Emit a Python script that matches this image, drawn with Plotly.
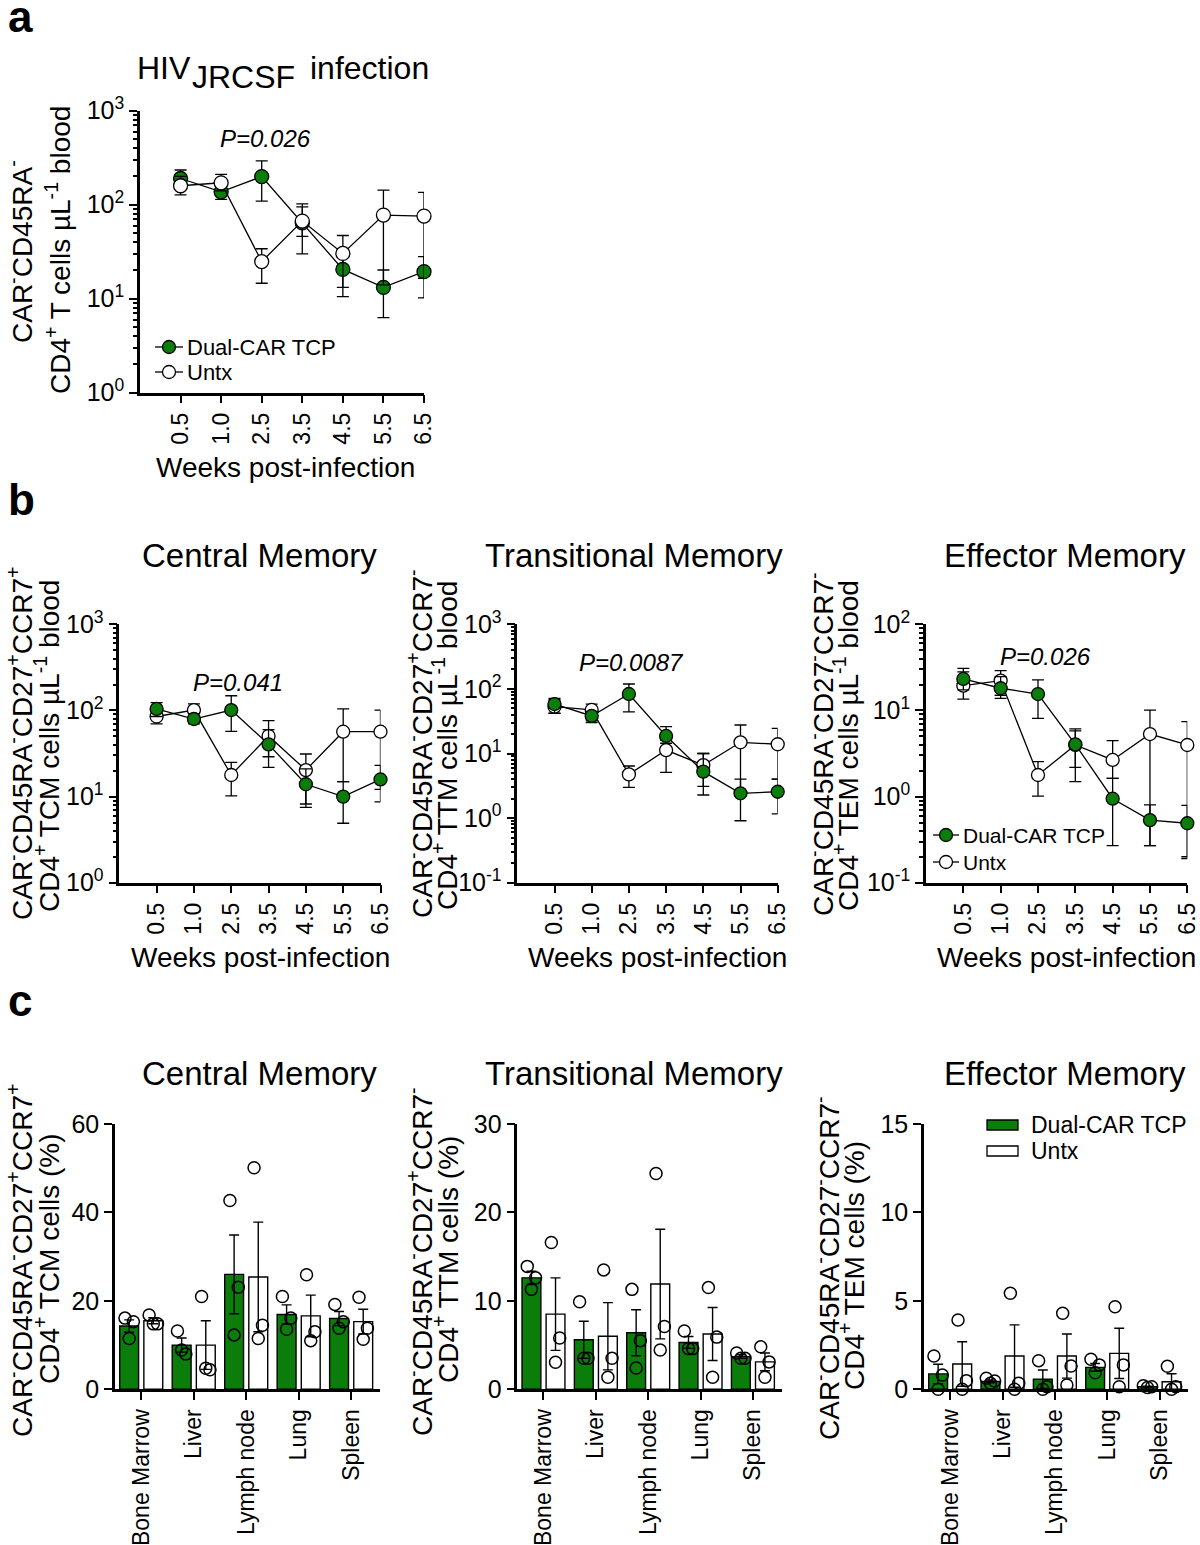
import numpy as np
import plotly.graph_objects as go

W, H = 1200, 1545
FONT = "Liberation Sans, Arial, Helvetica, sans-serif"
GREEN = "#0a7d0a"

# ---------------- data ----------------
weeks = ["0.5", "1.0", "2.5", "3.5", "4.5", "5.5", "6.5"]

# panel a: CAR- CD45RA- CD4+ T cells / uL blood
a_dual = [190, 137, 199, 64, 20.5, 13.2, 19.4]
a_dual_hi = [234, 165, 292, 95, 30, 20.2, 28]
a_dual_lo = [150, 114, 109, 30, 10.5, 6.3, 10.2]
a_untx = [159, 171, 24.8, 67, 30.3, 77.6, 75.7]
a_untx_hi = [200, 210, 34, 102, 47, 143, 135]
a_untx_lo = [127, 140, 14.6, 46, 13.2, 14, 16.5]

# panel b: central / transitional / effector memory
cm_dual = [104, 79.5, 101, 40.4, 13.9, 10.0, 15.8]
cm_dual_hi = [123, 92, 148, 76, 21, 14.9, 23]
cm_dual_lo = [85, 70, 57, 21.8, 7.5, 4.9, 8.7]
cm_untx = [85, 101, 17.8, 50.5, 20.3, 56.6, 56.6]
cm_untx_hi = [100, 119, 25, 60, 31.2, 104, 101]
cm_untx_lo = [70, 85, 10.2, 29, 8.2, 14.9, 12.1]

tm_dual = [58.3, 38.1, 83.4, 18.7, 5.24, 2.42, 2.56]
tm_dual_hi = [71.4, 45, 119, 26, 10, 4.0, 4.0]
tm_dual_lo = [41.7, 30, 44, 14.4, 2.28, 0.91, 1.16]
tm_untx = [53, 47.2, 4.75, 11.3, 6.6, 14.9, 13.9]
tm_untx_hi = [68, 58, 6.4, 16, 10, 27.6, 24.5]
tm_untx_lo = [42, 32, 3.0, 5.1, 3.1, 2.4, 4.0]

em_dual = [23.2, 18.1, 15.5, 4.04, 0.944, 0.533, 0.49]
em_dual_hi = [30.8, 24.7, 22.6, 6.1, 1.63, 0.80, 0.79]
em_dual_lo = [17.3, 13.8, 8.1, 2.18, 0.27, 0.27, 0.19]
em_untx = [19.4, 22.2, 1.78, 3.97, 2.66, 5.32, 3.97]
em_untx_hi = [28, 29, 2.54, 5.8, 4.46, 10.1, 7.4]
em_untx_lo = [13.5, 15, 1.01, 1.49, 1.63, 0.27, 0.2]

# panel c: tissue percentages
tissues = ["Bone Marrow", "Liver", "Lymph node", "Lung", "Spleen"]

c_cm_dual_mean = [14.3, 10.0, 26.0, 16.9, 16.0]
c_cm_dual_sem = [1.4, 1.6, 8.9, 2.2, 1.6]
c_cm_dual_pts = [[16.1, 15.3, 11.5], [13.2, 8.0, 8.9], [42.7, 23.1, 12.3], [21.0, 16.1, 13.6], [19.2, 15.3, 13.8]]
c_cm_untx_mean = [15.5, 10.0, 25.4, 16.6, 15.3]
c_cm_untx_sem = [0.67, 5.5, 12.4, 4.7, 2.8]
c_cm_untx_pts = [[16.8, 14.8, 14.8], [21.0, 4.4, 4.75], [50.1, 14.5, 11.5], [25.9, 13.0, 11.0], [20.8, 13.8, 11.3]]

c_tm_dual_mean = [12.6, 5.6, 6.4, 5.3, 3.7]
c_tm_dual_sem = [0.75, 2.1, 2.6, 0.67, 0.2]
c_tm_dual_pts = [[13.9, 12.6, 11.3], [9.9, 3.5, 3.5], [11.3, 5.5, 2.4], [6.6, 4.6, 4.6], [4.1, 3.5, 3.5]]
c_tm_untx_mean = [8.5, 6.0, 11.9, 6.25, 3.1]
c_tm_untx_sem = [4.1, 3.8, 6.2, 3.0, 1.0]
c_tm_untx_pts = [[16.6, 5.8, 3.05], [13.5, 3.5, 1.36], [24.4, 7.1, 4.45], [11.5, 5.9, 1.36], [4.8, 3.1, 1.36]]

c_em_dual_mean = [0.87, 0.45, 0.57, 1.24, 0.15]
c_em_dual_sem = [0.55, 0.08, 0.52, 0.22, 0.03]
c_em_dual_pts = [[1.88, 0.81, 0.0], [0.62, 0.47, 0.34], [1.62, 0.15, 0.0], [1.7, 1.38, 0.94], [0.2, 0.15, 0.1]]
c_em_untx_mean = [1.43, 1.88, 1.88, 2.03, 0.43]
c_em_untx_sem = [1.26, 1.76, 1.25, 1.42, 0.45]
c_em_untx_pts = [[3.92, 0.49, 0.0], [5.43, 0.34, 0.0], [4.3, 1.32, 0.24], [4.67, 1.38, 0.15], [1.3, 0.15, 0.0]]

series_names = ["Dual-CAR TCP", "Untx"]
p_values = ["P=0.026", "P=0.041", "P=0.0087", "P=0.026"]

# ---------------- helpers ----------------
def fx(p):
    return p / W


def fy(p):
    return 1 - p / H


fig = go.Figure()
layout = dict(
    template="none",
    width=W, height=H, autosize=False,
    margin=dict(l=0, r=0, t=0, b=0, pad=0, autoexpand=False),
    paper_bgcolor="white", plot_bgcolor="white",
    showlegend=False,
    font=dict(family=FONT, color="black"),
)

AXLINE = dict(showline=True, linewidth=2.5, linecolor="black", showgrid=False,
              zeroline=False, ticks="outside", ticklen=8, tickwidth=2, tickcolor="black",
              automargin=False)


def log_yaxis(ydom, lo, hi, anchor):
    exps = list(range(lo, hi + 1))
    minor_vals = [m * 10.0 ** e for e in range(lo, hi) for m in range(2, 10)]
    return dict(
        type="log", domain=[fy(ydom[1]), fy(ydom[0])], range=[lo, hi], anchor=anchor,
        tickmode="array", tickvals=[10.0 ** e for e in exps],
        ticktext=[f"10<sup>{e}</sup>" for e in exps],
        tickfont=dict(size=25, family=FONT, color="black"),
        minor=dict(tickmode="array", tickvals=minor_vals, ticks="outside",
                   ticklen=4, tickwidth=1.5, tickcolor="black", showgrid=False),
        **AXLINE,
    )


def week_xaxis(xdom, anchor):
    return dict(
        type="category", domain=[fx(xdom[0]), fx(xdom[1])], range=[-1, len(weeks) - 1],
        anchor=anchor, categoryorder="array", categoryarray=weeks,
        tickangle=-90, tickfont=dict(size=23, family=FONT, color="black"),
        **AXLINE,
    )


def lin_yaxis(ydom, top, step, anchor):
    return dict(
        domain=[fy(ydom[1]), fy(ydom[0])], range=[0, top], anchor=anchor,
        tickmode="linear", tick0=0, dtick=step,
        tickfont=dict(size=25, family=FONT, color="black"),
        **AXLINE,
    )


def tissue_xaxis(xdom, anchor):
    return dict(
        domain=[fx(xdom[0]), fx(xdom[1])], range=[-0.5, len(tissues) - 0.45], anchor=anchor,
        tickmode="array", tickvals=list(range(len(tissues))), ticktext=tissues,
        tickangle=-90, tickfont=dict(size=23, family=FONT, color="black"),
        **AXLINE,
    )


def add_line_series(xa, ya, vals, hi, lo, name, fill, msize):
    vals = np.array(vals, float)
    fig.add_trace(go.Scatter(
        x=weeks, y=vals, name=name, mode="lines+markers", xaxis=xa, yaxis=ya,
        line=dict(color="black", width=1.3),
        marker=dict(size=msize, color=fill, line=dict(color="black", width=1.3)),
        error_y=dict(type="data", symmetric=False,
                     array=np.array(hi, float) - vals,
                     arrayminus=vals - np.array(lo, float),
                     color="black", thickness=1.3, width=6),
        cliponaxis=False,
    ))


BAR_OFF = 0.23
BAR_W = 0.36
JITTER = [-0.08, 0.08, 0.0]


def add_bar_series(xa, ya, means, sems, pts, name, fill, side):
    idx = np.arange(len(tissues))
    xs = idx + side * BAR_OFF
    fig.add_trace(go.Bar(
        x=xs, y=means, width=BAR_W, name=name, xaxis=xa, yaxis=ya,
        marker=dict(color=fill, line=dict(color="black", width=1.4)),
        error_y=dict(type="data", array=sems, color="black", thickness=1.4, width=5),
    ))
    px_, py_ = [], []
    for i, group in enumerate(pts):
        for j, v in enumerate(group):
            px_.append(xs[i] + JITTER[j % len(JITTER)])
            py_.append(v)
    fig.add_trace(go.Scatter(
        x=px_, y=py_, mode="markers", xaxis=xa, yaxis=ya, name=name + " points",
        marker=dict(symbol="circle-open", size=12, color="black", line=dict(width=1.5)),
        cliponaxis=False,
    ))


# ---------------- panel geometry (pixels) ----------------
PA_X, PA_Y = (140, 424), (110.7, 392.7)
PB_Y = (624.3, 882.7)
PB_X = [(119.3, 380.5), (517.3, 777.7), (926, 1187.3)]
PC_Y = (1124, 1389.3)
PC_X = [(115, 380), (517.3, 781.7), (924, 1188.3)]

# panel a
layout["xaxis"] = week_xaxis(PA_X, "y")
layout["yaxis"] = log_yaxis(PA_Y, 0, 3, "x")
add_line_series("x", "y", a_dual, a_dual_hi, a_dual_lo, series_names[0], GREEN, 14)
add_line_series("x", "y", a_untx, a_untx_hi, a_untx_lo, series_names[1], "white", 14)

# panel b
b_sets = [
    (cm_dual, cm_dual_hi, cm_dual_lo, cm_untx, cm_untx_hi, cm_untx_lo, 0, 3),
    (tm_dual, tm_dual_hi, tm_dual_lo, tm_untx, tm_untx_hi, tm_untx_lo, -1, 3),
    (em_dual, em_dual_hi, em_dual_lo, em_untx, em_untx_hi, em_untx_lo, -1, 2),
]
for k, (d, dh, dl, u, uh, ul, lo, hi) in enumerate(b_sets):
    n = k + 2
    layout[f"xaxis{n}"] = week_xaxis(PB_X[k], f"y{n}")
    layout[f"yaxis{n}"] = log_yaxis(PB_Y, lo, hi, f"x{n}")
    add_line_series(f"x{n}", f"y{n}", u, uh, ul, series_names[1], "white", 13)
    add_line_series(f"x{n}", f"y{n}", d, dh, dl, series_names[0], GREEN, 13)

# panel c
c_sets = [
    (c_cm_dual_mean, c_cm_dual_sem, c_cm_dual_pts, c_cm_untx_mean, c_cm_untx_sem, c_cm_untx_pts, 60, 20),
    (c_tm_dual_mean, c_tm_dual_sem, c_tm_dual_pts, c_tm_untx_mean, c_tm_untx_sem, c_tm_untx_pts, 30, 10),
    (c_em_dual_mean, c_em_dual_sem, c_em_dual_pts, c_em_untx_mean, c_em_untx_sem, c_em_untx_pts, 15, 5),
]
for k, (dm, ds, dp, um, us, up, top, step) in enumerate(c_sets):
    n = k + 5
    layout[f"xaxis{n}"] = tissue_xaxis(PC_X[k], f"y{n}")
    layout[f"yaxis{n}"] = lin_yaxis(PC_Y, top, step, f"x{n}")
    add_bar_series(f"x{n}", f"y{n}", dm, ds, dp, series_names[0], GREEN, -1)
    add_bar_series(f"x{n}", f"y{n}", um, us, up, series_names[1], "white", +1)

layout["barmode"] = "overlay"

# ---------------- annotations ----------------
ann = []


def text(x, y, s, size, xanchor="center", yanchor="middle", angle=0, bold=False, italic=False):
    if bold:
        s = f"<b>{s}</b>"
    if italic:
        s = f"<i>{s}</i>"
    ann.append(dict(x=fx(x), y=fy(y), xref="paper", yref="paper", text=s, showarrow=False,
                    xanchor=xanchor, yanchor=yanchor, textangle=angle,
                    font=dict(size=size, family=FONT, color="black")))


# panel letters
text(6, 17, "a", 44, xanchor="left", bold=True)
text(6, 500, "b", 44, xanchor="left", bold=True)
text(6, 1000, "c", 44, xanchor="left", bold=True)

# panel a title
text(135, 68, "HIV", 32, xanchor="left")
text(190, 77, "JRCSF", 32, xanchor="left")
text(308, 68, "infection", 32, xanchor="left")

# panel titles
titles = ["Central Memory", "Transitional Memory", "Effector Memory"]
title_x = [259, 634, 1065]
for t, x in zip(titles, title_x):
    text(x, 555, t, 33)
    text(x, 1073, t, 33)

# x-axis titles
text(285, 468, "Weeks post-infection", 28)
for x in [260, 657, 1066]:
    text(x, 957, "Weeks post-infection", 28)

# y-axis titles
text(20, 252, "CAR<sup>-</sup>CD45RA<sup>-</sup>", 28, angle=-90)
text(58, 250, "CD4<sup>+</sup> T cells µL<sup>-1</sup> blood", 28, angle=-90)

line1 = ["CAR<sup>-</sup>CD45RA<sup>-</sup>CD27<sup>+</sup>CCR7<sup>+</sup>",
         "CAR<sup>-</sup>CD45RA<sup>-</sup>CD27<sup>+</sup>CCR7<sup>-</sup>",
         "CAR<sup>-</sup>CD45RA<sup>-</sup>CD27<sup>-</sup>CCR7<sup>-</sup>"]
subsets = ["TCM", "TTM", "TEM"]
l1x_b = [20, 420, 821]
l2x_b = [47, 445, 846]
for k in range(3):
    text(l1x_b[k], 744, line1[k], 28, angle=-90)
    text(l2x_b[k], 746, f"CD4<sup>+</sup> {subsets[k]} cells µL<sup>-1</sup> blood", 28, angle=-90)
l1x_c = [20, 420, 827]
l2x_c = [47, 446, 852]
l_cy = [1261, 1262, 1268]
for k in range(3):
    text(l1x_c[k], l_cy[k], line1[k], 28, angle=-90)
    text(l2x_c[k], l_cy[k] - 2, f"CD4<sup>+</sup> {subsets[k]} cells (%)", 28, angle=-90)

# P values
for (x, y), p in zip([(265, 138), (238, 682), (631, 662), (1045, 656)], p_values):
    text(x, y, p, 24, italic=True)

# ---------------- manual legends ----------------
shapes = []


def line_legend(x0, x1, xm, y, fill, label, size=22, r=6.5):
    shapes.append(dict(type="line", xref="paper", yref="paper", x0=fx(x0), x1=fx(x1),
                       y0=fy(y), y1=fy(y), line=dict(color="black", width=1.3)))
    shapes.append(dict(type="circle", xref="paper", yref="paper", x0=fx(xm - r), x1=fx(xm + r),
                       y0=fy(y + r), y1=fy(y - r), fillcolor=fill, line=dict(color="black", width=1.3)))
    text(x1 + 2, y, label, size, xanchor="left")


line_legend(155, 183, 169, 347, GREEN, series_names[0])
line_legend(155, 183, 169, 372, "white", series_names[1])
line_legend(933, 959, 946, 835, GREEN, series_names[0], size=21)
line_legend(933, 959, 946, 862, "white", series_names[1], size=21)


def bar_legend(x0, x1, yc, fill, label):
    shapes.append(dict(type="rect", xref="paper", yref="paper", x0=fx(x0), x1=fx(x1),
                       y0=fy(yc + 5), y1=fy(yc - 5), fillcolor=fill,
                       line=dict(color="black", width=1.3)))
    text(x1 + 11, yc, label, 23, xanchor="left")


bar_legend(987, 1018, 1125, GREEN, series_names[0])
bar_legend(987, 1018, 1151, "white", series_names[1])

layout["annotations"] = ann
layout["shapes"] = shapes
fig.update_layout(**layout)
fig.write_html("out.html",
               config={"displayModeBar": False},
               post_script="document.body.style.margin='0px';document.body.style.overflow='hidden';")
